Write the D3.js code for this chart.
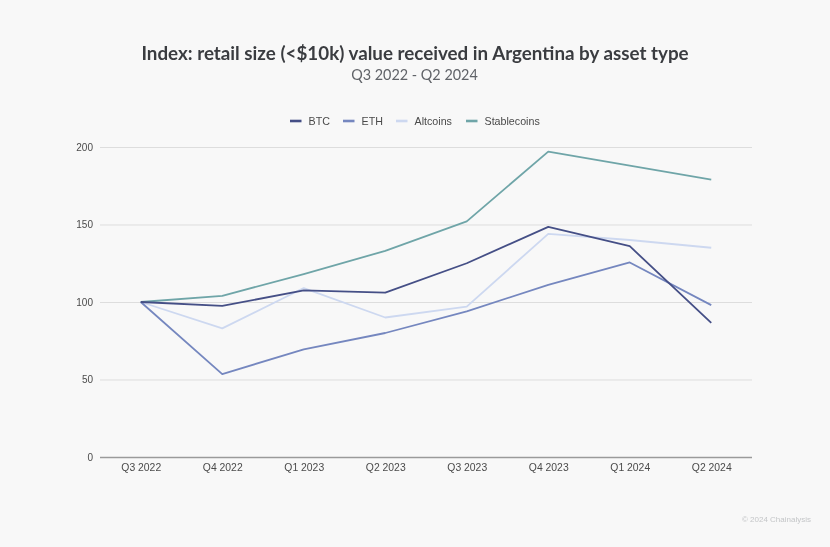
<!DOCTYPE html>
<html><head><meta charset="utf-8">
<script src="https://cdn.jsdelivr.net/npm/d3@7"></script>
<style>
html,body{margin:0;padding:0;background:#f8f8f8;overflow:hidden}
svg{display:block;filter:blur(0.35px)}
text{font-family:"Liberation Sans",Arial,sans-serif}
.domain{display:none}
</style></head><body>
<svg id="c" width="830" height="547"></svg>
<script>
const categories=["Q3 2022","Q4 2022","Q1 2023","Q2 2023","Q3 2023","Q4 2023","Q1 2024","Q2 2024"];
const btc=[100,97.5,107.5,106,125,148.5,136,86.5];
const eth=[100,53.5,69.5,80,94,111,125.5,98];
const altcoins=[100,83,109,90,97,144,140,135];
const stablecoins=[100,104,118,133,152,197,188,179];
const seriesNames=["BTC","ETH","Altcoins","Stablecoins"];
const seriesColors=["#454f86","#7587bf","#cdd8f0","#6fa5a8"];
const yTicks=[0,50,100,150,200];

const svg=d3.select("#c");
const x=d3.scalePoint().domain(categories).range([140.75,711.25]);
const y=d3.scaleLinear().domain([0,200]).range([457,147]);

svg.append("text").attr("x",415).attr("y",60).attr("text-anchor","middle")
  .style("font-family","Lato").style("font-weight",700).style("font-size","18.8px").attr("fill","#3a3c40")
  .text("Index: retail size (<$10k) value received in Argentina by asset type");
svg.append("text").attr("x",414.5).attr("y",80).attr("text-anchor","middle")
  .style("font-family","Lato").style("font-size","14.4px").attr("fill","#606368")
  .text("Q3 2022 - Q2 2024");

const gy=svg.append("g").attr("transform","translate(100,0)")
  .call(d3.axisLeft(y).tickValues(yTicks).tickSize(-652).tickPadding(7));
gy.selectAll(".tick line").attr("stroke",d=>d===0?"#9a9a9a":"#dddddd").attr("stroke-width",d=>d===0?1.6:1);
gy.selectAll("text").attr("fill","#4a4a4a").style("font-size","10px");

const gx=svg.append("g").attr("transform","translate(0,457)")
  .call(d3.axisBottom(x).tickSize(0).tickPadding(7));
gx.selectAll("text").attr("fill","#4a4a4a").style("font-size","10.4px");

const line=d3.line().x((d,i)=>x(categories[i])).y(d=>y(d));
const order=[altcoins,stablecoins,eth,btc];
const colorOf=new Map([[btc,seriesColors[0]],[eth,seriesColors[1]],[altcoins,seriesColors[2]],[stablecoins,seriesColors[3]]]);
order.forEach(s=>svg.append("path").datum(s).attr("d",line).attr("fill","none")
  .attr("stroke",colorOf.get(s)).attr("stroke-width",1.8).attr("stroke-linejoin","round"));

const legendX=[290,343,396,466];
const lg=svg.append("g");
seriesNames.forEach((n,i)=>{
  lg.append("line").attr("x1",legendX[i]).attr("x2",legendX[i]+11.5).attr("y1",121).attr("y2",121)
    .attr("stroke",seriesColors[i]).attr("stroke-width",2.6);
  lg.append("text").attr("x",legendX[i]+18.5).attr("y",124.5).attr("fill","#4a4a4a").style("font-size","10.7px").text(n);
});

svg.append("text").attr("x",811).attr("y",522).attr("text-anchor","end")
  .attr("fill","#c4c6c8").style("font-size","8px").text("© 2024 Chainalysis");
</script></body></html>
